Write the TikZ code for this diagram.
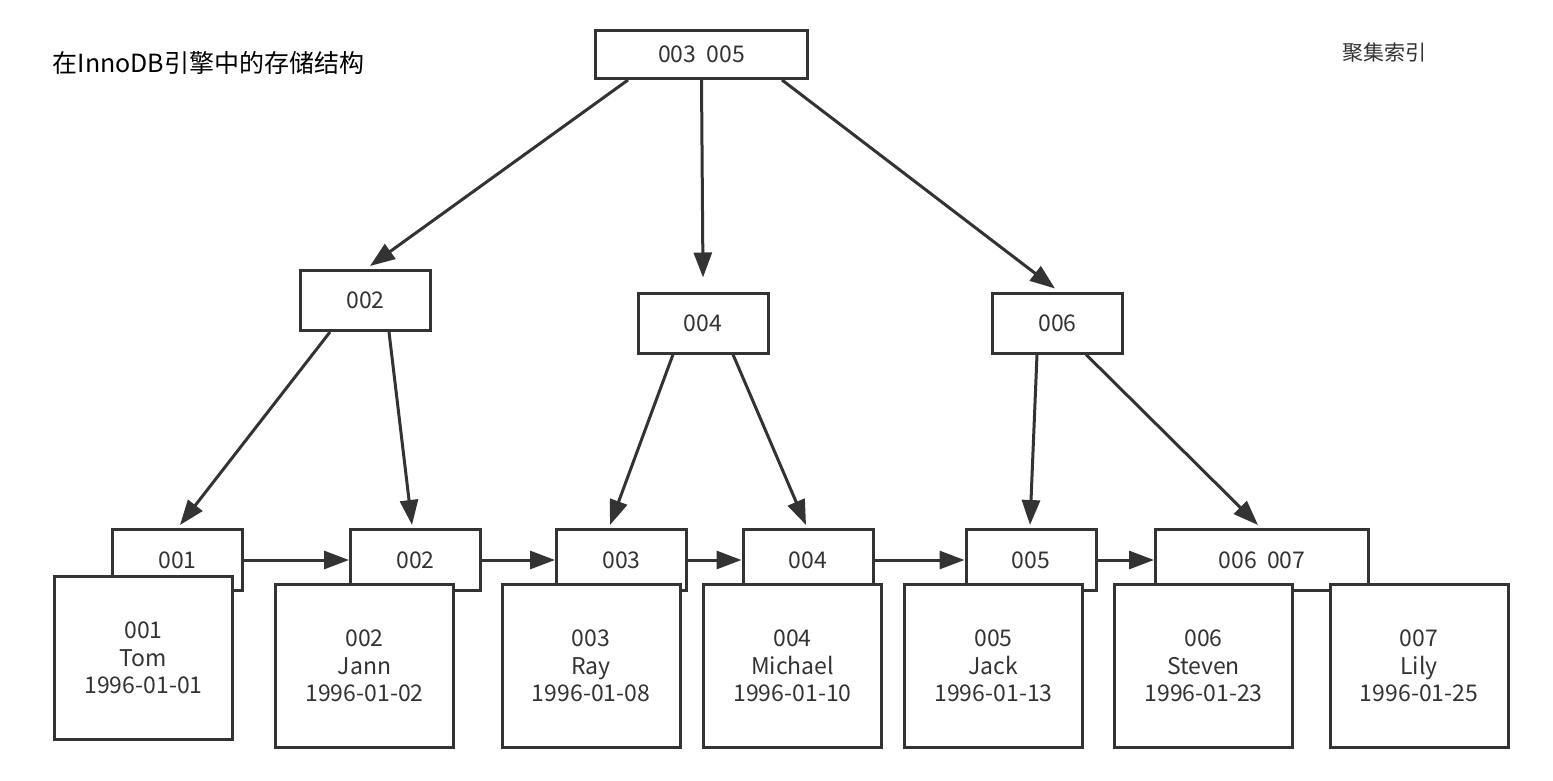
\documentclass[tikz,border=0pt]{standalone}
\usepackage{fontspec}
\setmainfont{Noto Sans CJK SC}
\usetikzlibrary{arrows.meta}
\definecolor{ink}{HTML}{333333}

\begin{document}
\begin{tikzpicture}[x=1pt,y=-1pt,>={Triangle[length=25pt,width=18pt]},line width=3pt,
  every node/.style={text=ink,font=\fontsize{23}{27.5}\selectfont},
  key node/.style={draw=ink,rectangle,minimum width=130pt,minimum height=60pt,inner sep=0pt},
  row node/.style={draw=ink,fill=white,rectangle,align=center,minimum width=178pt,minimum height=163pt,inner sep=0pt},
  link/.style={draw=ink,->}]
    \useasboundingbox (0,0) rectangle (1553,781);

    % titles
    \node[text=black,font=\fontsize{25}{29}\selectfont] (title) at (208.5,63) {在InnoDB引擎中的存储结构};
    \node[font=\fontsize{21}{25}\selectfont] (kind) at (1384,53) {聚集索引};

    % index nodes
    \node[key node,minimum width=212pt,minimum height=48pt] (root) at (701.5,54.5) {003\ \ 005};
    \node[key node] (m002) at (365.5,300.5) {002};
    \node[key node] (m004) at (703,323) {004};
    \node[key node] (m006) at (1057.5,323) {006};

    % leaf pages
    \node[key node,minimum height=61pt] (l001) at (177.5,560) {001};
    \node[key node,minimum height=61pt] (l002) at (415.5,560) {002};
    \node[key node,minimum height=61pt] (l003) at (621.5,560) {003};
    \node[key node,minimum height=61pt] (l004) at (808,560) {004};
    \node[key node,minimum height=61pt] (l005) at (1031,560) {005};
    \node[key node,minimum height=61pt,minimum width=213pt] (l006) at (1262,560) {006\ \ 007};

    % rows
    \node[row node] (r001) at (143.5,658) {001\\Tom\\1996-01-01};
    \node[row node] (r002) at (364.5,666) {002\\Jann\\1996-01-02};
    \node[row node] (r003) at (591,666) {003\\Ray\\1996-01-08};
    \node[row node] (r004) at (792.5,666) {004\\Michael\\1996-01-10};
    \node[row node] (r005) at (993.5,666) {005\\Jack\\1996-01-13};
    \node[row node] (r006) at (1203.5,666) {006\\Steven\\1996-01-23};
    \node[row node] (r007) at (1419,666) {007\\Lily\\1996-01-25};

    \path[every edge/.style={link}]
    ([xshift=-73.5pt]root.south) edge ([xshift=4.5pt,yshift=3pt]m002.north)
    (root.south) edge ([yshift=14pt]m004.north)
    ([xshift=80.5pt]root.south) edge ([xshift=-2.5pt,yshift=3pt]m006.north)
    ([xshift=-35.5pt]m002.south) edge ([xshift=2.5pt,yshift=3pt]l001.north)
    ([xshift=23.5pt]m002.south) edge ([xshift=-3.5pt,yshift=3pt]l002.north)
    ([xshift=-30pt]m004.south) edge ([xshift=-11.5pt,yshift=3pt]l003.north)
    ([xshift=30pt]m004.south) edge ([xshift=-2pt,yshift=3pt]l004.north)
    ([xshift=-20.5pt]m006.south) edge ([xshift=-1pt,yshift=3pt]l005.north)
    ([xshift=28.5pt]m006.south) edge ([xshift=-4pt,yshift=3pt]l006.north)
    (l001.east) edge (l002.west)
    (l002.east) edge (l003.west)
    (l003.east) edge (l004.west)
    (l004.east) edge (l005.west)
    (l005.east) edge (l006.west);
\end{tikzpicture}
\end{document}
